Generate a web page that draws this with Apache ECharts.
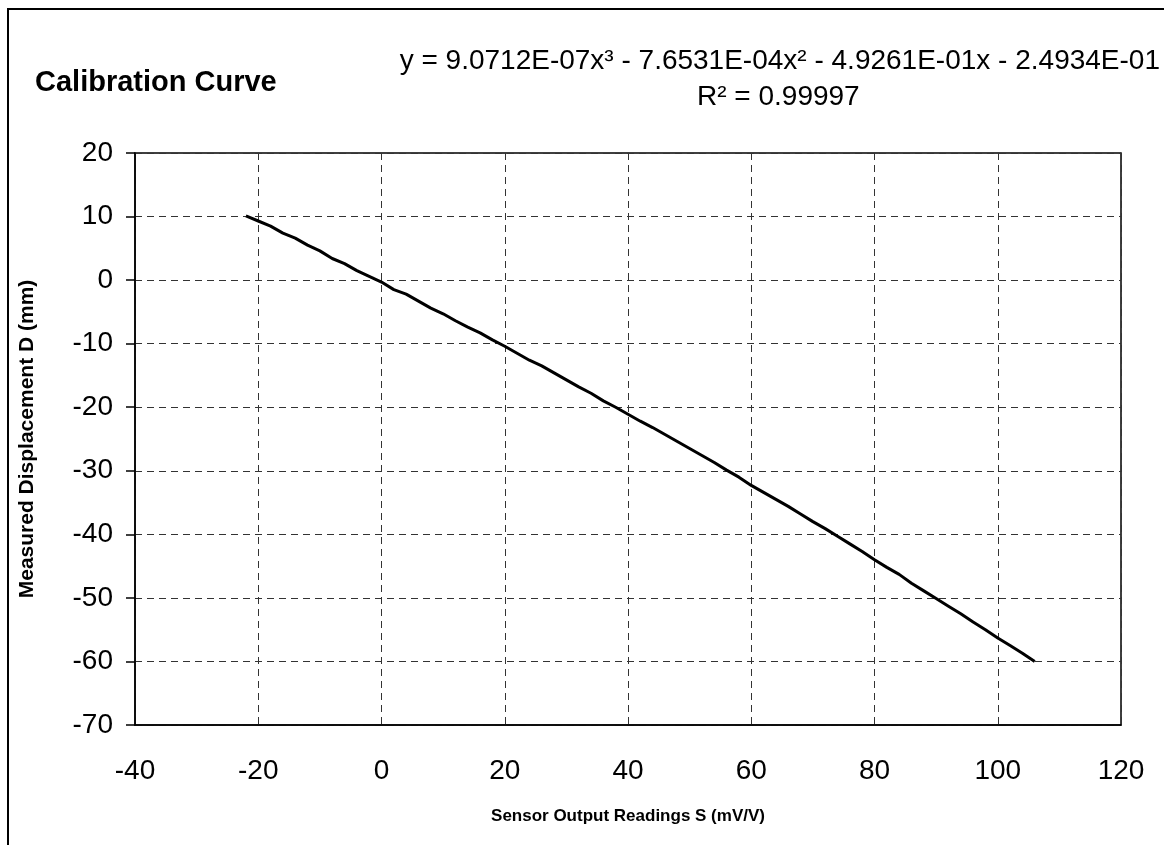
<!DOCTYPE html>
<html style="height: 100%">
<head>
<meta charset="utf-8">
<script src="https://cdn.jsdelivr.net/npm/echarts@6/dist/echarts.min.js"></script>
</head>
<body style="height: 100%; margin: 0; background: #fff">
<div id="container" style="width: 1164px; height: 845px;"></div>
<script>
// sensor readings S (mV/V) and measured displacement D (mm)
var sensorS = [-22, -20, -18, -16, -14, -12, -10, -8, -6, -4, -2, 0, 2, 4, 6, 8, 10,
	12, 14, 16, 18, 20, 22, 24, 26, 28, 30, 32, 34, 36, 38, 40, 42, 44, 46, 48, 50,
	52, 54, 56, 58, 60, 62, 64, 66, 68, 70, 72, 74, 76, 78, 80, 82, 84, 86, 88, 90,
	92, 94, 96, 98, 100, 102, 104, 106];
var displD = [10.1, 9.3, 8.5, 7.4, 6.6, 5.5, 4.6, 3.4, 2.6, 1.5, 0.6, -0.3, -1.5, -2.2, -3.3, -4.4, -5.3,
	-6.4, -7.4, -8.3, -9.4, -10.4, -11.5, -12.6, -13.5, -14.6, -15.7, -16.8, -17.8, -19.0, -20.0, -21.1, -22.2, -23.2, -24.3, -25.4, -26.5,
	-27.6, -28.7, -29.9, -31.0, -32.3, -33.4, -34.5, -35.6, -36.8, -38.0, -39.1, -40.3, -41.5, -42.7, -44.0, -45.2, -46.3, -47.7, -48.9, -50.1,
	-51.3, -52.5, -53.8, -55.0, -56.3, -57.5, -58.7, -60.0];

var xTicks = { min: -40, max: 120, interval: 20 };
var yTicks = { min: -70, max: 20, interval: 10 };

var equationText = 'y = 9.0712E-07x\u00b3 - 7.6531E-04x\u00b2 - 4.9261E-01x - 2.4934E-01';
var r2Text = 'R\u00b2 = 0.99997';

var points = [];
for (var i = 0; i < sensorS.length; i++) {
	points.push([sensorS[i], displD[i]]);
}

var dom = document.getElementById("container");
var myChart = echarts.init(dom);
var font = 'Arial, "Liberation Sans", sans-serif';
var gridDash = {
	show : true,
	lineStyle : { color : '#333', width : 1, type : [7, 5] }
};

var option = {
	animation : false,
	backgroundColor : '#fff',
	textStyle : { fontFamily : font },
	grid : {
		left : 135,
		top : 153,
		width : 986,
		height : 572,
		show : true,
		borderColor : '#000',
		borderWidth : 1.5
	},
	xAxis : {
		type : 'value',
		min : xTicks.min,
		max : xTicks.max,
		interval : xTicks.interval,
		name : 'Sensor Output Readings S (mV/V)',
		nameLocation : 'middle',
		nameGap : 83,
		nameTextStyle : { fontSize : 17, fontWeight : 'bold', color : '#000', fontFamily : font },
		axisLine : { show : true, onZero : false, lineStyle : { color : '#000', width : 1.5 } },
		axisTick : { show : false },
		axisLabel : { fontSize : 28, color : '#000', margin : 32, fontFamily : font },
		splitLine : gridDash
	},
	yAxis : {
		type : 'value',
		min : yTicks.min,
		max : yTicks.max,
		interval : yTicks.interval,
		name : 'Measured Displacement D (mm)',
		nameLocation : 'middle',
		nameGap : 97,
		nameTextStyle : { fontSize : 21, fontWeight : 'bold', color : '#000', fontFamily : font },
		axisLine : { show : true, onZero : false, lineStyle : { color : '#000', width : 1.5 } },
		axisTick : { show : true, inside : false, length : 9, lineStyle : { color : '#000', width : 1.5 } },
		axisLabel : { fontSize : 28, color : '#000', margin : 22, fontFamily : font },
		splitLine : gridDash
	},
	series : [ {
		name : 'Calibration',
		type : 'line',
		data : points,
		showSymbol : false,
		smooth : false,
		lineStyle : { color : '#000', width : 3 }
	} ],
	graphic : [ {
		type : 'rect',
		shape : { x : 8, y : 9, width : 1300, height : 1000 },
		style : { fill : 'none', stroke : '#000', lineWidth : 2 },
		silent : true
	}, {
		type : 'text',
		left : 35,
		top : 68,
		style : { text : 'Calibration Curve', font : 'bold 29px ' + font, fill : '#000' }
	}, {
		type : 'text',
		right : 4,
		top : 47,
		style : { text : equationText, font : '28px ' + font, fill : '#000' }
	}, {
		type : 'text',
		left : 697,
		top : 83,
		style : { text : r2Text, font : '28px ' + font, fill : '#000' }
	} ]
};
myChart.setOption(option);
</script>
</body>
</html>
